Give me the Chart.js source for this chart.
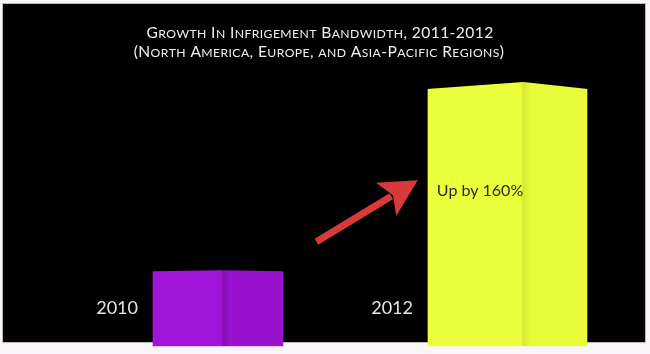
<!DOCTYPE html>
<html><head><meta charset="utf-8">
<script src="https://cdn.jsdelivr.net/npm/chart.js@4.4.1/dist/chart.umd.min.js"></script>
<style>html,body{margin:0;padding:0;background:#faf5f8;overflow:hidden}canvas{display:block}</style>
</head><body>
<canvas id="c" width="650" height="354"></canvas>
<script>
// data
const years=['2010','2012'];
const bandwidth=[101,352];
const titleLines=['Growth In Infrigement Bandwidth, 2011-2012','(North America, Europe, and Asia-Pacific Regions)'];
const callout='Up by 160%';
// annotation anchors in data units: [category index, value]
const arrowFrom=[0.34,139], arrowTo=[0.69,221];
const calloutAt=[0.756,207];

// look
const barColors=['#a114da','#ebff3c'];
const faceColors=['#9811cd','#e8fc39'];
const foldShade=[0.14,0.08];
const foldAt=[0.54,0.6];
const slant=[1,7];
const widths=[130,159];
const FONT='Lato, "Open Sans", sans-serif';

function smallCaps(ctx,txt,cx,y,big,small){
  const parts=[...txt].map(ch=>({t:ch.toUpperCase(),s:ch!==ch.toUpperCase()?small:big}));
  let w=0;
  parts.forEach(p=>{ctx.font=p.s+'px '+FONT;p.w=ctx.measureText(p.t).width+0.4;w+=p.w;});
  let x=cx-w/2;
  parts.forEach(p=>{ctx.font=p.s+'px '+FONT;ctx.fillText(p.t,x,y);x+=p.w;});
}

const frame={id:'frame',
  beforeDraw(ch){
    const c=ch.ctx;c.save();
    c.fillStyle='#faf5f8';c.fillRect(0,0,ch.width,ch.height);
    c.fillStyle='#b9b6b8';c.fillRect(2,3,644,340);
    c.fillStyle='#000';c.fillRect(3,4,642,338);
    c.fillStyle='#f0f0f0';c.textBaseline='alphabetic';c.textAlign='left';
    smallCaps(c,titleLines[0],320,38,15.6,12.2);
    smallCaps(c,titleLines[1],319,57,15.6,12.2);
    c.restore();
  },
  afterDatasetsDraw(ch){
    const c=ch.ctx;c.save();
    ch.data.datasets.forEach((ds,di)=>{
      ch.getDatasetMeta(di).data.forEach((el,i)=>{
        if(ds.data[i]==null)return;
        const l=el.x-el.width/2,r=el.x+el.width/2,fx=l+el.width*foldAt[di];
        c.fillStyle=faceColors[di];c.fillRect(fx,el.y,r-fx,el.base-el.y);
        const g=c.createLinearGradient(fx-3,0,fx+7,0);
        g.addColorStop(0,'rgba(0,0,0,0)');g.addColorStop(0.3,'rgba(0,0,0,'+foldShade[di]+')');g.addColorStop(1,'rgba(0,0,0,0)');
        c.fillStyle=g;c.fillRect(fx-3,el.y,10,el.base-el.y);
        // roof slant
        const s=slant[di];
        c.fillStyle='#000';c.beginPath();
        c.moveTo(l-1,el.y-1);c.lineTo(fx,el.y-1);c.lineTo(fx,el.y);c.lineTo(l-1,el.y+s);c.closePath();c.fill();
        c.beginPath();c.moveTo(fx,el.y-1);c.lineTo(r+1,el.y-1);c.lineTo(r+1,el.y+s);c.lineTo(fx,el.y);c.closePath();c.fill();
        // year label
        c.fillStyle='#e4e4e4';c.font='18px '+FONT;c.textAlign='right';c.textBaseline='middle';
        c.fillText(ch.data.labels[i],l-15,ch.chartArea.bottom-38);
      });
    });
    const xs=ch.scales.x,ys=ch.scales.y;
    const x0=xs.getPixelForValue(arrowFrom[0]),y0=ys.getPixelForValue(arrowFrom[1]);
    const x1=xs.getPixelForValue(arrowTo[0]),y1=ys.getPixelForValue(arrowTo[1]);
    const a=Math.atan2(y1-y0,x1-x0),hl=37,hw=19.5;
    const bx=x1-hl*Math.cos(a),by=y1-hl*Math.sin(a);
    c.strokeStyle='#d8393a';c.lineWidth=7;c.lineCap='butt';
    c.beginPath();c.moveTo(x0,y0);c.lineTo(bx+6*Math.cos(a),by+6*Math.sin(a));c.stroke();
    c.fillStyle='#d8393a';c.beginPath();
    c.moveTo(x1,y1);
    c.lineTo(bx-hw*Math.sin(a),by+hw*Math.cos(a));
    c.lineTo(bx+8*Math.cos(a),by+8*Math.sin(a));
    c.lineTo(bx+hw*Math.sin(a),by-hw*Math.cos(a));
    c.closePath();c.fill();
    c.fillStyle='#2b2b1e';c.font='16px '+FONT;c.textAlign='left';c.textBaseline='middle';
    c.fillText(callout,xs.getPixelForValue(calloutAt[0]),ys.getPixelForValue(calloutAt[1]));
    c.restore();
  }
};

new Chart(document.getElementById('c'),{
  type:'bar',
  data:{labels:years,datasets:years.map((y,i)=>({
    data:bandwidth.map((v,j)=>j===i?v:null),
    backgroundColor:barColors[i],borderWidth:0,barThickness:widths[i],clip:false
  }))},
  options:{responsive:false,animation:false,
    layout:{padding:{left:218,right:142.5,top:46,bottom:8}},
    datasets:{bar:{grouped:false}},
    plugins:{legend:{display:false},title:{display:false},tooltip:{enabled:false}},
    scales:{
      x:{display:false,offset:false},
      y:{display:false,min:0,max:400}
    }
  },
  plugins:[frame]
});
</script>
</body></html>
